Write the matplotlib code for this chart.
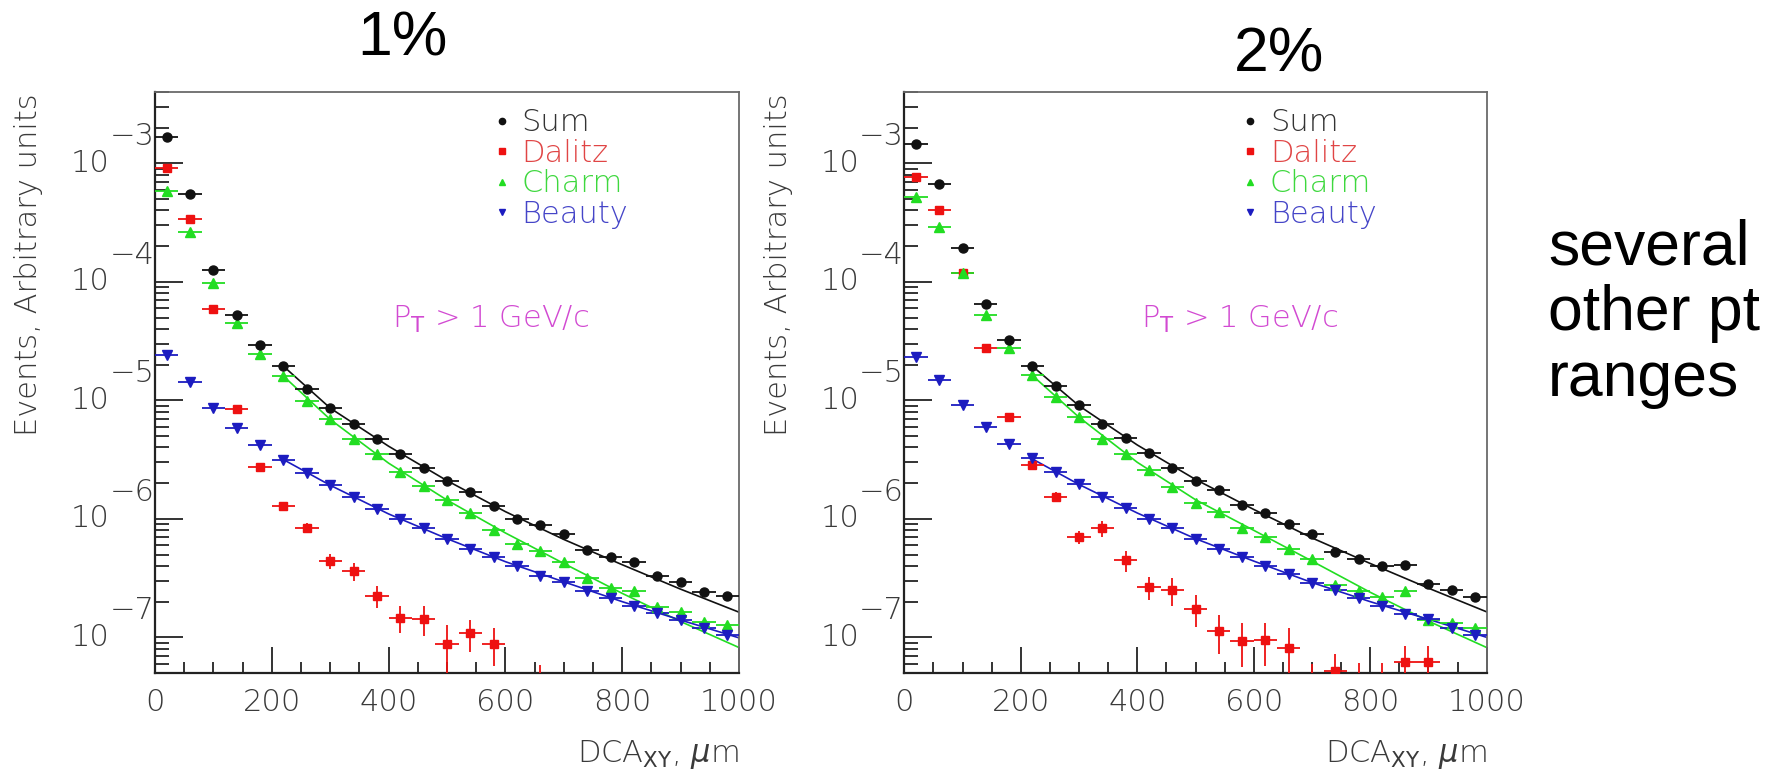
import numpy as np
import matplotlib
matplotlib.use("Agg")
import matplotlib.pyplot as plt
from matplotlib.lines import Line2D
from matplotlib.ticker import MultipleLocator, LogLocator, NullFormatter

# ---------------- data ----------------
dca_bins = [20, 60, 100, 140, 180, 220, 260, 300, 340, 380, 420, 460, 500,
            540, 580, 620, 660, 700, 740, 780, 820, 860, 900, 940, 980]
bin_half_width = 20
nan = np.nan

# 1% panel
sum_1 = [1.66e-3, 5.5e-4, 1.27e-4, 5.2e-5, 2.94e-5, 1.94e-5, 1.25e-5, 8.7e-6, 6.3e-6,
         4.7e-6, 3.5e-6, 2.7e-6, 2.1e-6, 1.69e-6, 1.28e-6, 1.0e-6, 8.95e-7, 7.4e-7,
         5.5e-7, 4.8e-7, 4.3e-7, 3.3e-7, 2.94e-7, 2.42e-7, 2.23e-7]
dalitz_1 = [9.1e-4, 3.4e-4, 5.9e-5, 8.5e-6, 2.74e-6, 1.28e-6, 8.4e-7, 4.4e-7, 3.6e-7,
            2.24e-7, 1.47e-7, 1.43e-7, 8.8e-8, 1.08e-7, 8.8e-8, nan, 3.5e-8, nan,
            nan, nan, nan, nan, nan, nan, nan]
dalitz_1_relerr = [0.02, 0.02, 0.03, 0.05, 0.06, 0.08, 0.10, 0.14, 0.17, 0.21, 0.26, 0.28,
                   0.45, 0.30, 0.35, nan, 0.66, nan, nan, nan, nan, nan, nan, nan, nan]
charm_1 = [5.8e-4, 2.62e-4, 9.8e-5, 4.5e-5, 2.47e-5, 1.59e-5, 9.8e-6, 6.9e-6, 4.7e-6,
           3.5e-6, 2.49e-6, 1.88e-6, 1.44e-6, 1.11e-6, 8.1e-7, 6.1e-7, 5.4e-7, 4.34e-7,
           3.14e-7, 2.62e-7, 2.47e-7, 1.79e-7, 1.63e-7, 1.36e-7, 1.27e-7]
beauty_1 = [2.39e-5, 1.43e-5, 8.6e-6, 5.8e-6, 4.2e-6, 3.16e-6, 2.45e-6, 1.92e-6, 1.53e-6,
            1.22e-6, 1.0e-6, 8.3e-7, 6.8e-7, 5.6e-7, 4.72e-7, 4.0e-7, 3.3e-7, 2.94e-7,
            2.47e-7, 2.13e-7, 1.85e-7, 1.59e-7, 1.4e-7, 1.2e-7, 1.04e-7]

# 2% panel
sum_2 = [1.46e-3, 6.7e-4, 1.92e-4, 6.5e-5, 3.2e-5, 1.94e-5, 1.31e-5, 9.1e-6, 6.35e-6,
         4.85e-6, 3.6e-6, 2.7e-6, 2.08e-6, 1.74e-6, 1.3e-6, 1.11e-6, 9.1e-7, 7.4e-7,
         5.3e-7, 4.54e-7, 4.0e-7, 4.1e-7, 2.81e-7, 2.5e-7, 2.2e-7]
dalitz_2 = [7.7e-4, 4.05e-4, 1.18e-4, 2.76e-5, 7.2e-6, 2.83e-6, 1.53e-6, 7.05e-7, 8.3e-7,
            4.48e-7, 2.67e-7, 2.5e-7, 1.75e-7, 1.14e-7, 9.4e-8, 9.5e-8, 8.2e-8, 3.5e-8,
            5.2e-8, 3.5e-8, 3.5e-8, 6.2e-8, 6.2e-8, nan, nan]
dalitz_2_relerr = [0.02, 0.02, 0.03, 0.04, 0.06, 0.08, 0.10, 0.13, 0.15, 0.20, 0.22, 0.26,
                   0.30, 0.36, 0.40, 0.40, 0.45, 0.70, 0.40, 0.75, 0.75, 0.35, 0.35, nan, nan]
charm_2 = [5.2e-4, 2.89e-4, 1.18e-4, 5.2e-5, 2.76e-5, 1.63e-5, 1.07e-5, 7.2e-6, 4.75e-6,
           3.5e-6, 2.6e-6, 1.84e-6, 1.36e-6, 1.15e-6, 8.3e-7, 7.05e-7, 5.6e-7, 4.54e-7,
           2.76e-7, 2.46e-7, 2.2e-7, 2.47e-7, 1.4e-7, 1.33e-7, 1.19e-7]
beauty_2 = [2.32e-5, 1.48e-5, 9.2e-6, 6.0e-6, 4.3e-6, 3.23e-6, 2.49e-6, 1.95e-6, 1.53e-6,
            1.24e-6, 1.0e-6, 8.3e-7, 6.8e-7, 5.6e-7, 4.77e-7, 3.99e-7, 3.41e-7, 2.85e-7,
            2.5e-7, 2.13e-7, 1.84e-7, 1.57e-7, 1.43e-7, 1.19e-7, 1.05e-7]

# fitted curves
fit_x = [220, 300, 400, 500, 600, 700, 800, 900, 1000]
sum_fit_1 = [1.94e-5, 8.6e-6, 4.1e-6, 2.1e-6, 1.15e-6, 6.7e-7, 4.1e-7, 2.55e-7, 1.63e-7]
charm_fit_1 = [1.6e-5, 6.9e-6, 2.95e-6, 1.44e-6, 7.6e-7, 4.2e-7, 2.35e-7, 1.36e-7, 8.2e-8]
beauty_fit_1 = [3.16e-6, 1.92e-6, 1.1e-6, 6.8e-7, 4.35e-7, 2.94e-7, 2.0e-7, 1.4e-7, 9.9e-8]
sum_fit_2 = [1.94e-5, 9.0e-6, 4.2e-6, 2.15e-6, 1.2e-6, 6.9e-7, 4.2e-7, 2.6e-7, 1.64e-7]
charm_fit_2 = [1.62e-5, 7.2e-6, 3.0e-6, 1.45e-6, 8.0e-7, 4.4e-7, 2.4e-7, 1.37e-7, 8.2e-8]
beauty_fit_2 = [3.2e-6, 1.95e-6, 1.12e-6, 6.8e-7, 4.4e-7, 2.9e-7, 2.0e-7, 1.42e-7, 1.0e-7]

series_names = ["Sum", "Dalitz", "Charm", "Beauty"]
panel_titles = ["1%", "2%"]
x_ticks = [0, 200, 400, 600, 800, 1000]
y_decades = [-3, -4, -5, -6, -7]
pt_label = r"P$_{\rm T}$ > 1 GeV/c"
side_note = "several\nother pt\nranges"

# ---------------- style ----------------
C_SUM, C_DAL, C_CHA, C_BEA = "#111111", "#ee1111", "#22dd22", "#1c1cc0"
TXT_COL = {"Sum": "#333333", "Dalitz": "#e04545", "Charm": "#3ed83e", "Beauty": "#4545c8"}
MAG = "#d24ad2"
GREY = "#3a3a3a"
RF = dict(family="DejaVu Sans", fontweight="light")
FS = 22

fig = plt.figure(figsize=(17.79, 7.71), dpi=100)
axes_rects = [[155 / 1779, 98 / 771, 584 / 1779, 581 / 771],
              [904.3 / 1779, 98 / 771, 582.4 / 1779, 581 / 771]]

panels = [
    (sum_1, dalitz_1, dalitz_1_relerr, charm_1, beauty_1, sum_fit_1, charm_fit_1, beauty_fit_1),
    (sum_2, dalitz_2, dalitz_2_relerr, charm_2, beauty_2, sum_fit_2, charm_fit_2, beauty_fit_2),
]

x = np.array(dca_bins, dtype=float)
for i, (rect, pdata) in enumerate(zip(axes_rects, panels)):
    s, d, derr, c, b, sf, cf, bf = [np.array(v, dtype=float) for v in pdata]
    ax = fig.add_axes(rect)
    ax.set_yscale("log")
    ax.set_xlim(0, 1000)
    ax.set_ylim(5e-8, 4e-3)

    # fits
    ax.plot(fit_x, sf, color=C_SUM, lw=1.2, zorder=2)
    ax.plot(fit_x, cf, color=C_CHA, lw=1.2, zorder=2)
    ax.plot(fit_x, bf, color=C_BEA, lw=1.2, zorder=2)

    ekw = dict(xerr=bin_half_width, ls="none", capsize=0, elinewidth=1.3, ms=6.5, zorder=3)
    ax.errorbar(x, d, yerr=derr * d, fmt="s", color=C_DAL, **dict(ekw, ms=6))
    ax.errorbar(x, c, yerr=0.03 * c, fmt="^", color=C_CHA, **ekw)
    ax.errorbar(x, b, yerr=0.03 * b, fmt="v", color=C_BEA, **ekw)
    ax.errorbar(x, s, yerr=0.03 * s, fmt="o", color=C_SUM, **ekw)

    # axes styling (ROOT-like)
    for side in ["left", "bottom"]:
        ax.spines[side].set_linewidth(1.6)
        ax.spines[side].set_color("#222222")
    for side in ["top", "right"]:
        ax.spines[side].set_linewidth(1.3)
        ax.spines[side].set_color("#6a6a6a")

    ax.xaxis.set_major_locator(MultipleLocator(200))
    ax.xaxis.set_minor_locator(MultipleLocator(50))
    ax.yaxis.set_major_locator(LogLocator(base=10))
    ax.yaxis.set_minor_locator(LogLocator(base=10, subs=np.arange(2, 10)))
    ax.yaxis.set_minor_formatter(NullFormatter())
    ax.set_xticks(x_ticks)
    ax.set_xticklabels([str(t) for t in x_ticks], color=GREY, fontsize=FS, **RF)
    ax.tick_params(which="both", direction="in", top=False, right=False, color="#333333", width=1.4)
    ax.tick_params(axis="x", which="major", length=19, pad=11)
    ax.tick_params(axis="x", which="minor", length=8)
    ax.tick_params(axis="y", which="major", length=20, labelleft=False)
    ax.tick_params(axis="y", which="minor", length=10)

    # y tick labels 10^-n (ROOT style, large exponent)
    for k in y_decades:
        ax.annotate("10", xy=(0, 10.0 ** k), xycoords=("axes fraction", "data"),
                    xytext=(-32.5, 0), textcoords="offset points", ha="right", va="center",
                    fontsize=FS, color=GREY, **RF)
        ax.annotate("\u2212" + str(-k), xy=(0, 10.0 ** k), xycoords=("axes fraction", "data"),
                    xytext=(-32.5, 19), textcoords="offset points", ha="left", va="center",
                    fontsize=FS, color=GREY, **RF)

    ax.set_xlabel(r"DCA$_{\rm XY}$, $\mu$m", fontsize=FS, color=GREY, ha="right", **RF)
    ax.xaxis.set_label_coords(1.0, -0.112)
    ax.text(-0.216, 0.998, "Events, Arbitrary units", rotation=90, ha="center", va="top",
            transform=ax.transAxes, fontsize=FS, color=GREY, **RF)

    handles = [Line2D([], [], marker="o", ls="none", color=C_SUM, ms=4.5),
               Line2D([], [], marker="s", ls="none", color=C_DAL, ms=4.5),
               Line2D([], [], marker="^", ls="none", color=C_CHA, ms=4.5),
               Line2D([], [], marker="v", ls="none", color=C_BEA, ms=4.5)]
    leg = ax.legend(handles, series_names, loc="upper left", bbox_to_anchor=(0.578, 0.972),
                    frameon=False, borderpad=0, borderaxespad=0, handlelength=0.6,
                    handletextpad=0.35, labelspacing=0.05,
                    prop=dict(size=FS, family="DejaVu Sans", weight="light"),
                    labelcolor=[TXT_COL[n] for n in series_names])

    ax.text(0.406, 0.608, pt_label, transform=ax.transAxes, ha="left", va="center",
            fontsize=FS, color=MAG, **RF)

fig.text(402 / 1779, 1 - 55 / 771, panel_titles[0], ha="center", va="baseline",
         fontsize=45, family="Liberation Sans", color="black")
fig.text(1279 / 1779, 1 - 72 / 771, panel_titles[1], ha="center", va="baseline",
         fontsize=45, family="Liberation Sans", color="black")
# multi-line text: va='baseline' anchors the last line's baseline
fig.text(1548 / 1779, 1 - 396 / 771, side_note, ha="left", va="baseline", fontsize=45,
         family="Liberation Sans", color="black", linespacing=1.15)

fig.savefig("out.png", dpi=100, facecolor="white")
